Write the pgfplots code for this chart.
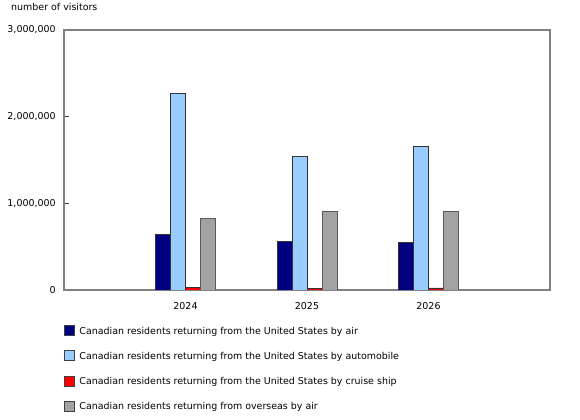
\documentclass[border=0pt]{standalone}
\usepackage{fontspec}
\setmainfont{DejaVu Sans}
\usepackage{pgfplots}
\pgfplotsset{compat=1.18}

\definecolor{usair}{HTML}{000080}
\definecolor{usauto}{HTML}{99CCFF}
\definecolor{uscruise}{HTML}{FF0000}
\definecolor{overseas}{HTML}{A3A3A3}
\definecolor{framegray}{HTML}{808080}

\begin{document}
\fontsize{9.5}{11}\selectfont
\begin{tikzpicture}
\path[use as bounding box] (0,0) rectangle (580bp,420bp);
\begin{axis}[
  scale only axis,
  width=486bp, height=260bp,
  at={(64bp,130bp)}, anchor=south west,
  ybar=0pt, bar width=15bp,
  xmin=-1, xmax=3,
  xtick={0,1,2},
  xticklabels={2024,2025,2026},
  ymin=0, ymax=3000000,
  ytick={0,1000000,2000000,3000000},
  ytick pos=left,
  scaled y ticks=false,
  /pgf/number format/fixed,
  /pgf/number format/precision=0,
  /pgf/number format/1000 sep={,},
  /pgf/number format/assume math mode=true,
  tick align=inside,
  major tick length=5bp,
  x tick style={draw=none},
  y tick style={draw=black!75, line width=1bp},
  axis line style={draw=framegray, line width=1.3bp},
  yticklabel style={xshift=-5bp},
  xticklabel style={yshift=-9bp},
  ylabel={number of visitors},
  ylabel style={rotate=-90, at={(axis description cs:-0.109,1.088)}, anchor=west, inner sep=0pt},
  legend style={
    at={(axis description cs:0,-0.135)}, anchor=north west,
    draw=none, inner sep=0pt, row sep=13.4bp,
    nodes={inner sep=1.5bp},
    /tikz/every odd column/.append style={column sep=3bp},
  },
  legend cell align=left,
  legend image code/.code={
    \draw[#1, draw=black!75, line width=0.8bp] (0bp,-4.5bp) rectangle (10bp,5.5bp);
  },
  every axis plot/.append style={draw=black!80, line width=0.8bp},
]
\addplot[fill=usair] coordinates {(0,640000) (1,558000) (2,547000)};
\addlegendentry{Canadian residents returning from the United States by air}
\addplot[fill=usauto] coordinates {(0,2268000) (1,1540000) (2,1656000)};
\addlegendentry{Canadian residents returning from the United States by automobile}
\addplot[fill=uscruise] coordinates {(0,26000) (1,15000) (2,24000)};
\addlegendentry{Canadian residents returning from the United States by cruise ship}
\addplot[fill=overseas, draw=black!65] coordinates {(0,824000) (1,909000) (2,909000)};
\addlegendentry{Canadian residents returning from overseas by air}
\end{axis}
\end{tikzpicture}
\end{document}
